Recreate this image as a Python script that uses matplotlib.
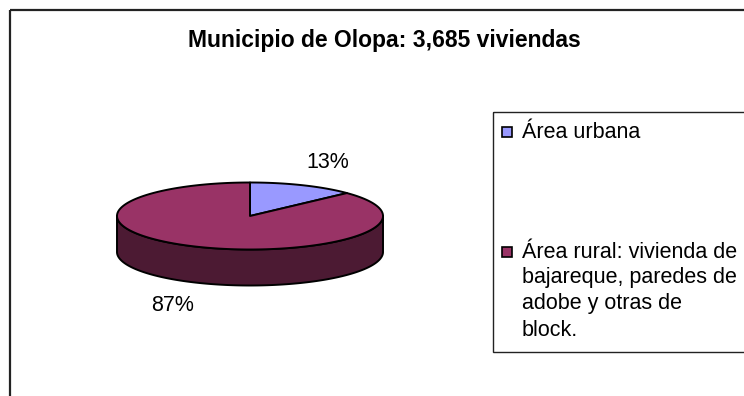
import numpy as np
import matplotlib
matplotlib.use("Agg")
import matplotlib.pyplot as plt
from matplotlib.patches import Polygon, Rectangle

plt.rcParams['font.family'] = ['Liberation Sans', 'DejaVu Sans']

# Data
title = "Municipio de Olopa: 3,685 viviendas"
categories = ["Área urbana",
              "Área rural: vivienda de\nbajareque, paredes de\nadobe y otras de\nblock."]
shares = [13, 87]
face_colors = ["#9999FF", "#993366"]
side_colors = ["#4C1A33", "#4C1A33"]

W, H = 744, 396
fig = plt.figure(figsize=(W / 100, H / 100), dpi=100)
ax = fig.add_axes([0, 0, 1, 1])
ax.set_xlim(0, W)
ax.set_ylim(H, 0)
ax.axis("off")

# chart frame (continues past the right and bottom edges)
ax.add_patch(Rectangle((10, 10), 800, 500, fill=False, ec="#222222", lw=1.6))

ax.text(384, 40, title, ha="center", va="center", fontsize=16.5,
        fontweight="bold", color="black")

# 3D pie geometry
cx, cy, rx, ry, depth = 250, 216, 133, 33.5, 36


def rim(theta_deg):
    t = np.radians(theta_deg)
    return cx + rx * np.cos(t), cy - ry * np.sin(t)


fracs = np.array(shares, dtype=float) / sum(shares)
bounds = 90 - 360 * np.concatenate([[0], np.cumsum(fracs)])

# visible side wall: the part of each slice lying in the front half [-180, 0]
for i in range(len(shares)):
    seg_lo, seg_hi = sorted((bounds[i], bounds[i + 1]))
    for shift in (0, -360, 360):
        s_lo, s_hi = max(seg_lo + shift, -180), min(seg_hi + shift, 0)
        if s_hi > s_lo:
            th = np.linspace(s_lo, s_hi, 200)
            xs, ys = rim(th)
            px = np.concatenate([xs, xs[::-1]])
            py = np.concatenate([ys, ys[::-1] + depth])
            ax.add_patch(Polygon(np.column_stack([px, py]), closed=True,
                                 fc=side_colors[i], ec="black", lw=1.4,
                                 joinstyle="round"))

# top faces
for i in range(len(shares)):
    th = np.linspace(bounds[i], bounds[i + 1], 400)
    xs, ys = rim(th)
    pts = np.column_stack([np.r_[cx, xs], np.r_[cy, ys]])
    ax.add_patch(Polygon(pts, closed=True, fc=face_colors[i], ec="black",
                         lw=1.4, joinstyle="round"))

# percentage labels placed outside the rim
lrx, lry = 196, 58
for i, s in enumerate(shares):
    mid = np.radians((bounds[i] + bounds[i + 1]) / 2)
    lx = cx + lrx * np.cos(mid)
    ly = cy - lry * np.sin(mid)
    if np.sin(mid) < 0:
        ly += depth
    ax.text(lx, ly, f"{s}%", ha="center", va="center", fontsize=15.5,
            color="black")

# legend
ax.add_patch(Rectangle((493, 112), 400, 240, fill=False, ec="#222222", lw=1.0))
entry_y = [132, 252]
line_gap = 26
for i, label in enumerate(categories):
    ax.add_patch(Rectangle((502, entry_y[i] - 5), 10, 10, fc=face_colors[i],
                           ec="black", lw=1.2))
    for k, line in enumerate(label.split("\n")):
        ax.text(522, entry_y[i] + k * line_gap, line, ha="left", va="center",
                fontsize=15.5, color="black")

fig.savefig("out.png", dpi=100)
